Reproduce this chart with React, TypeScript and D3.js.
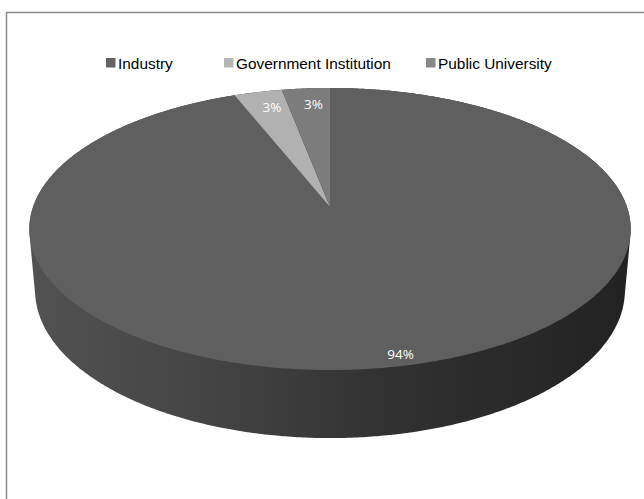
import React from "react";
import * as d3 from "d3";

const categories = ["Industry", "Government Institution", "Public University"];
const values = [94, 3, 3];
const valueLabels = ["94%", "3%", "3%"];

const topColors = ["#5f5f5f", "#b1b1b1", "#7c7c7c"];
const legendColors = ["#636363", "#b5b5b5", "#888888"];
const legendX = [106, 224, 426];

const W = 644;
const H = 499;
const CX = 330;
const CY = 207;
const D = 5.68;
const F = 1687;
const TH = (27.6 * Math.PI) / 180;
const HT = 0.235;

function proj(x: number, y: number, z: number): [number, number] {
  const yup = z * Math.cos(TH) - y * Math.sin(TH);
  const depth = D - (y * Math.cos(TH) + z * Math.sin(TH));
  return [CX + (F * x) / depth, CY - (F * yup) / depth];
}

function rim(a: number, r: number, z: number): [number, number] {
  return proj(Math.sin(a) * r, -Math.cos(a) * r, z);
}

export default function App() {
  const pie = d3
    .pie<number>()
    .sort(null)
    .startAngle(0)
    .endAngle(2 * Math.PI)
    .value((d) => d);
  const arcs = pie(values);
  const total = d3.sum(values);

  const rimPts: [number, number][] = [];
  const N = 720;
  for (let i = 0; i < N; i++) {
    const a = (i / N) * 2 * Math.PI;
    rimPts.push(rim(a, 1, 0));
    rimPts.push(rim(a, 1, -HT));
  }
  const hull = d3.polygonHull(rimPts) || [];
  const sidePath = "M" + hull.map((p) => p.join(",")).join("L") + "Z";
  const xExt = d3.extent(hull, (p) => p[0]) as [number, number];

  const slicePaths = arcs.map((a) => {
    const steps = Math.max(4, Math.ceil(((a.endAngle - a.startAngle) * 180) / Math.PI * 2));
    const pts: [number, number][] = [proj(0, 0, 0)];
    for (let i = 0; i <= steps; i++) {
      const t = a.startAngle + ((a.endAngle - a.startAngle) * i) / steps;
      pts.push(rim(t, 1, 0));
    }
    return "M" + pts.map((p) => p.join(",")).join("L") + "Z";
  });

  const labelPos = arcs.map((a) => {
    const big = a.value / total > 0.5;
    const mid = (a.startAngle + a.endAngle) / 2 + (big ? -0.03 : 0.02);
    const r = big ? 0.94 : 0.85;
    return rim(mid, r, 0);
  });

  return (
    <svg
      width={W}
      height={H}
      style={{ position: "fixed", left: 0, top: 0, background: "#fff" }}
    >
      <defs>
        <linearGradient
          id="sideGrad"
          gradientUnits="userSpaceOnUse"
          x1={xExt[0]}
          x2={xExt[1]}
          y1={0}
          y2={0}
        >
          <stop offset="0" stopColor="#525252" />
          <stop offset="0.3" stopColor="#444444" />
          <stop offset="0.6" stopColor="#313131" />
          <stop offset="1" stopColor="#222222" />
        </linearGradient>
      </defs>
      <rect x={0} y={0} width={W} height={H} fill="#fff" />
      <rect
        x={6.5}
        y={12.5}
        width={W + 20}
        height={H + 20}
        fill="#fff"
        stroke="#8a8a8a"
        strokeWidth={1.5}
      />
      <path d={sidePath} fill="url(#sideGrad)" />
      {slicePaths.map((d, i) => (
        <path key={i} d={d} fill={topColors[i]} />
      ))}
      {labelPos.map((p, i) => (
        <text
          key={i}
          x={p[0]}
          y={p[1]}
          textAnchor="middle"
          dominantBaseline="central"
          fill="#ffffff"
          fontFamily="'Open Sans', sans-serif"
          fontSize={13.5}
        >
          {valueLabels[i]}
        </text>
      ))}
      {categories.map((c, i) => (
        <g key={c} transform={`translate(${legendX[i]},0)`}>
          <rect x={0} y={58} width={9.5} height={9.5} fill={legendColors[i]} />
          <text
            x={12}
            y={68.5}
            fontFamily="'Liberation Sans', Arial, sans-serif"
            fontSize={15.4}
            fill="#000"
          >
            {c}
          </text>
        </g>
      ))}
    </svg>
  );
}
